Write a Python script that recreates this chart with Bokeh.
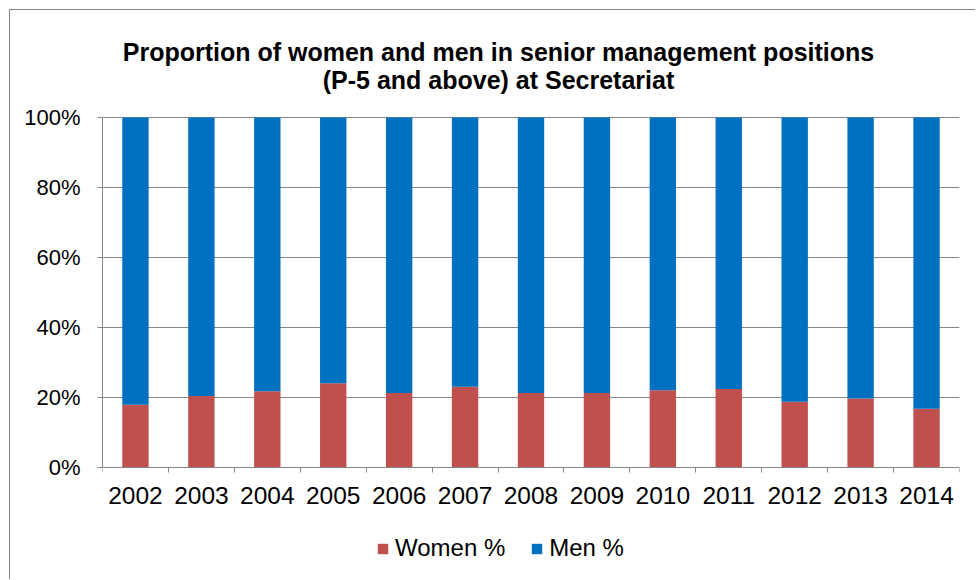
import numpy as np
from bokeh.plotting import figure
from bokeh.models import (ColumnDataSource, Range1d, FixedTicker, PrintfTickFormatter,
                          Label, Legend, LegendItem)
from bokeh.embed import file_html
from bokeh.resources import INLINE

years = ["2002", "2003", "2004", "2005", "2006", "2007", "2008",
         "2009", "2010", "2011", "2012", "2013", "2014"]
women_pct = [17.9, 20.4, 21.8, 24.1, 21.3, 23.1, 21.3, 21.3, 22.1, 22.4, 18.8, 19.7, 16.8]
men_pct = [82.1, 79.6, 78.2, 75.9, 78.7, 76.9, 78.7, 78.7, 77.9, 77.6, 81.2, 80.3, 83.2]
y_ticks = [0, 20, 40, 60, 80, 100]
title_lines = ["Proportion of women and men in senior management positions",
               "(P-5 and above) at Secretariat"]

WOMEN_C = "#C0504D"
MEN_C = "#0070C0"
GRID_C = "#868686"
FONT = "Liberation Sans"

W, H = 966, 570
LEFT, RIGHT = 92, 17
TOP_PX, BOT_PX = 107, 113          # pixel space above 100% and below 0%
PLOT_PX = H - TOP_PX - BOT_PX      # pixels for 0..100
ppu = PLOT_PX / 100.0

xpos = np.arange(len(years)) + 0.5
src = ColumnDataSource(dict(x=xpos, year=years, women=women_pct, men=men_pct))

p = figure(width=W, height=H, output_backend="svg", toolbar_location=None,
           x_range=Range1d(0, len(years)),
           y_range=Range1d(-BOT_PX / ppu, 100 + TOP_PX / ppu),
           min_border_left=LEFT, min_border_right=RIGHT, min_border_top=0, min_border_bottom=0)
p.styles = {"margin-left": "9px", "margin-top": "9px",
            "border-left": "1px solid #868686", "border-top": "1px solid #868686"}
p.outline_line_color = None
p.background_fill_color = "white"
p.border_fill_color = "white"

rs = p.vbar_stack(["women", "men"], x="x", width=0.4, source=src,
                  color=[WOMEN_C, MEN_C], line_color=None)

# x axis drawn at y = 0
p.xaxis.fixed_location = 0
p.xaxis.ticker = FixedTicker(ticks=list(xpos), minor_ticks=list(range(len(years) + 1)))
p.xaxis.major_label_overrides = {float(x): y for x, y in zip(xpos, years)}
p.xaxis.major_tick_out = 0
p.xaxis.major_tick_in = 0
p.xaxis.minor_tick_out = 5
p.xaxis.minor_tick_in = 0
p.xaxis.minor_tick_line_color = GRID_C
p.xaxis.axis_line_color = GRID_C
p.xaxis.major_label_text_font = FONT
p.xaxis.major_label_text_font_size = "24.5px"
p.xaxis.major_label_text_color = "black"
p.xaxis.major_label_standoff = 14

p.yaxis.bounds = (0, 100)
p.yaxis.ticker = FixedTicker(ticks=y_ticks)
p.yaxis.formatter = PrintfTickFormatter(format="%d%%")
p.yaxis.major_tick_out = 5
p.yaxis.major_tick_in = 0
p.yaxis.minor_tick_line_color = None
p.yaxis.major_tick_line_color = GRID_C
p.yaxis.axis_line_color = GRID_C
p.yaxis.major_label_text_font = FONT
p.yaxis.major_label_text_font_size = "22px"
p.yaxis.major_label_text_color = "black"
p.yaxis.major_label_standoff = 17

p.xgrid.grid_line_color = None
p.ygrid.grid_line_color = GRID_C
p.ygrid.ticker = FixedTicker(ticks=y_ticks[1:])

# title (screen units, relative to the frame's bottom-left)
for line, baseline in zip(title_lines, [41, 69]):
    p.add_layout(Label(x=396, y=H - baseline, x_units="screen", y_units="screen", text=line,
                       text_font=FONT, text_font_size="25px", text_font_style="bold",
                       text_align="center", text_baseline="alphabetic", text_color="black"))

legend = Legend(items=[LegendItem(label="Women %", renderers=[rs[0]]),
                       LegendItem(label="Men %", renderers=[rs[1]])],
                orientation="horizontal", location=(274, 18),
                glyph_width=13, glyph_height=13, label_standoff=6, spacing=25,
                padding=0, margin=0, border_line_color=None, background_fill_alpha=0,
                label_text_font=FONT, label_text_font_size="24px", label_text_color="black")
p.add_layout(legend, "center")

open("out.html", "w").write(file_html(p, INLINE))
